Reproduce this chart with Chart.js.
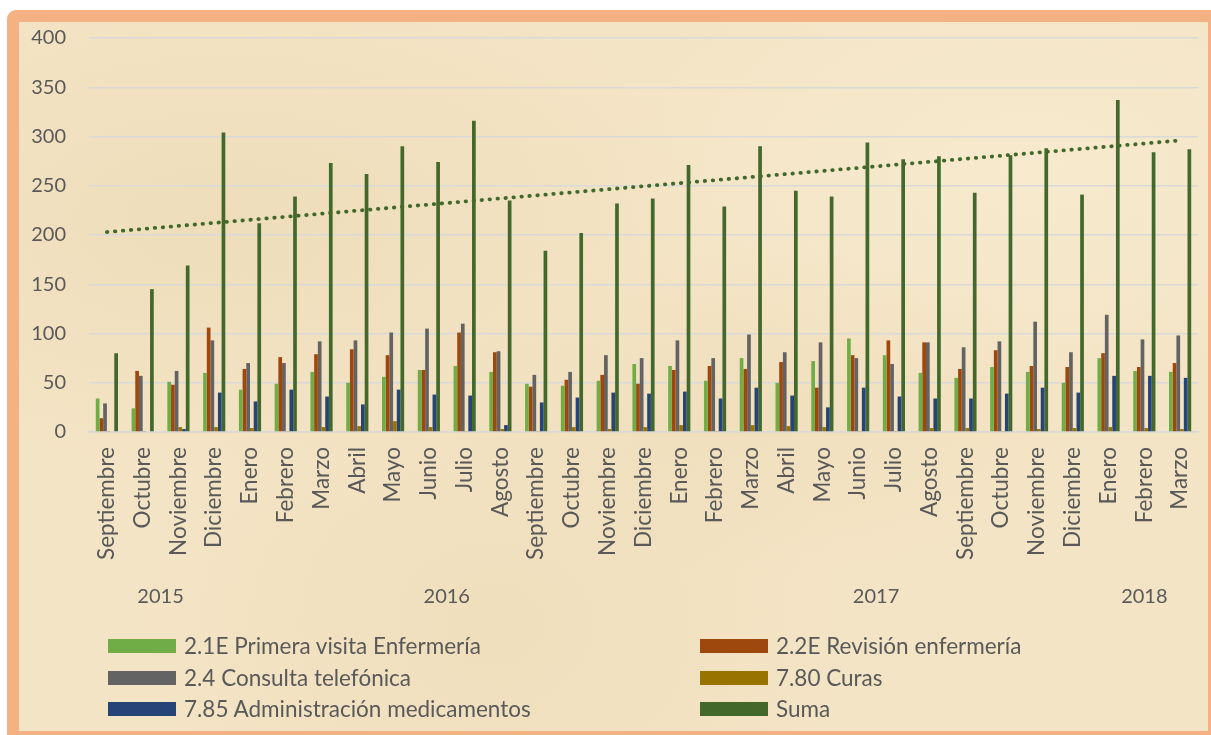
<!DOCTYPE html>
<html>
<head>
<meta charset="utf-8">
<script src="https://cdn.jsdelivr.net/npm/chart.js@4.4.1/dist/chart.umd.min.js"></script>
<style>
html, body { margin: 0; padding: 0; width: 1211px; height: 735px; overflow: hidden; background: #fff; }
#frame {
  position: absolute; left: 7px; top: 10px; width: 1189px; height: 709px;
  border: 12px solid #F4B183; border-radius: 9px;
  background:
    radial-gradient(ellipse at 18% 28%, rgba(230,208,165,0.35), transparent 35%),
    radial-gradient(ellipse at 62% 55%, rgba(234,212,170,0.30), transparent 30%),
    radial-gradient(ellipse at 85% 20%, rgba(250,238,212,0.55), transparent 30%),
    radial-gradient(ellipse at 40% 85%, rgba(232,210,168,0.30), transparent 35%),
    #F3E4C5;
}
#chart { position: absolute; left: 0; top: 0; }
#legend {
  position: absolute; left: 108px; top: 639px;
  display: grid; grid-template-columns: 592px auto; row-gap: 17.5px;
  font-family: Lato, sans-serif; font-size: 22.5px; color: #595959;
}
.item { display: flex; align-items: center; height: 14px; }
.sw { width: 68px; height: 14px; margin-right: 8px; }
.item span { line-height: 14px; white-space: nowrap; }
</style>
</head>
<body>
<div id="frame"></div>
<canvas id="chart" width="1211" height="735"></canvas>
<div id="legend"></div>
<script>
const months = ['Septiembre', 'Octubre', 'Noviembre', 'Diciembre',
  'Enero', 'Febrero', 'Marzo', 'Abril', 'Mayo', 'Junio', 'Julio', 'Agosto', 'Septiembre', 'Octubre', 'Noviembre', 'Diciembre',
  'Enero', 'Febrero', 'Marzo', 'Abril', 'Mayo', 'Junio', 'Julio', 'Agosto', 'Septiembre', 'Octubre', 'Noviembre', 'Diciembre',
  'Enero', 'Febrero', 'Marzo'];
const years = ['2015', '2016', '2017', '2018'];
const yearMonths = [4, 12, 12, 3];

const primeraVisita = [34, 24, 51, 60, 43, 49, 61, 50, 56, 63, 67, 61, 49, 47, 52, 69, 67, 52, 75, 50, 72, 95, 78, 60, 55, 66, 61, 50, 75, 62, 61];
const revision = [14, 62, 48, 106, 64, 76, 79, 84, 78, 63, 101, 81, 46, 53, 58, 49, 63, 67, 64, 71, 45, 78, 93, 91, 64, 83, 67, 66, 80, 66, 70];
const telefonica = [29, 57, 62, 93, 70, 70, 92, 93, 101, 105, 110, 82, 58, 61, 78, 75, 93, 75, 99, 81, 91, 75, 69, 91, 86, 92, 112, 81, 119, 94, 98];
const curas = [1, 1, 5, 5, 4, 1, 5, 6, 11, 5, 1, 3, 1, 5, 3, 5, 7, 1, 7, 6, 5, 1, 1, 4, 4, 1, 3, 4, 5, 4, 3];
const medicamentos = [0, 0, 3, 40, 31, 43, 36, 28, 43, 38, 37, 7, 30, 35, 40, 39, 41, 34, 45, 37, 25, 45, 36, 34, 34, 39, 45, 40, 57, 57, 55];
const suma = [80, 145, 169, 304, 212, 239, 273, 262, 290, 274, 316, 235, 184, 202, 232, 237, 271, 229, 290, 245, 239, 294, 277, 280, 243, 281, 288, 241, 337, 284, 287];
// linear trend of Suma, read at first and last month
const trendEnds = [203, 296];

const TXT = '#595959';
const FONT = 'Lato';

let series = [
  { label: '2.1E Primera visita Enfermería', data: primeraVisita, color: '#70AD47' },
  { label: '2.2E Revisión enfermería', data: revision, color: '#9E480E' },
  { label: '2.4 Consulta telefónica', data: telefonica, color: '#636363' },
  { label: '7.80 Curas', data: curas, color: '#997300' },
  { label: '7.85 Administración medicamentos', data: medicamentos, color: '#264478' },
  { label: 'Suma', data: suma, color: '#43682B' }
];

let datasets = series.map(s => {
  return {
    type: 'bar',
    label: s.label,
    data: s.data,
    backgroundColor: s.color,
    borderWidth: 0,
    barPercentage: 1,
    categoryPercentage: 0.62
  };
});

let trend = months.map(() => null);
trend[0] = trendEnds[0];
trend[months.length - 1] = trendEnds[1];
datasets.push({
  type: 'line',
  label: 'Lineal (Suma)',
  data: trend,
  spanGaps: true,
  borderColor: '#43682B',
  borderWidth: 3.8,
  borderDash: [0.5, 7.5],
  borderCapStyle: 'round',
  pointRadius: 0,
  fill: false
});

const yearPlugin = {
  id: 'years',
  afterDraw(chart) {
    let ctx = chart.ctx;
    let x = chart.scales.x;
    ctx.save();
    ctx.font = '20px ' + FONT;
    ctx.fillStyle = TXT;
    ctx.textAlign = 'center';
    ctx.textBaseline = 'middle';
    let start = 0;
    years.forEach((y, i) => {
      let mid = start + (yearMonths[i] - 1) / 2;
      ctx.fillText(y, x.getPixelForValue(mid), 597);
      start += yearMonths[i];
    });
    ctx.restore();
  }
};

new Chart(document.getElementById('chart'), {
  type: 'bar',
  data: { labels: months, datasets: datasets },
  options: {
    responsive: false,
    animation: false,
    layout: { padding: { top: 38, right: 13, left: 0, bottom: 0 } },
    plugins: { legend: { display: false }, tooltip: { enabled: false } },
    scales: {
      x: {
        grid: { display: false, drawTicks: false },
        border: { display: true, color: '#D9D9D9', width: 1.5 },
        ticks: {
          color: TXT, font: { family: FONT, size: 22.5 },
          minRotation: 90, maxRotation: 90, padding: 15, autoSkip: false
        },
        afterFit(s) {
          s.height = 303;
          s.paddingLeft = 0;
          s.paddingRight = 0;
        }
      },
      y: {
        min: 0, max: 400,
        ticks: { stepSize: 50, color: TXT, font: { family: FONT, size: 20 }, padding: 23 },
        grid: { color: '#D9D9D9', lineWidth: 1.5, drawTicks: false },
        border: { display: false },
        afterFit(s) { s.width = 89; }
      }
    }
  },
  plugins: [yearPlugin]
});

// two-column legend like the original
let legend = document.getElementById('legend');
series.forEach(s => {
  let item = document.createElement('div');
  item.className = 'item';
  item.innerHTML = '<div class="sw" style="background:' + s.color + '"></div><span>' + s.label + '</span>';
  legend.appendChild(item);
});
</script>
</body>
</html>
